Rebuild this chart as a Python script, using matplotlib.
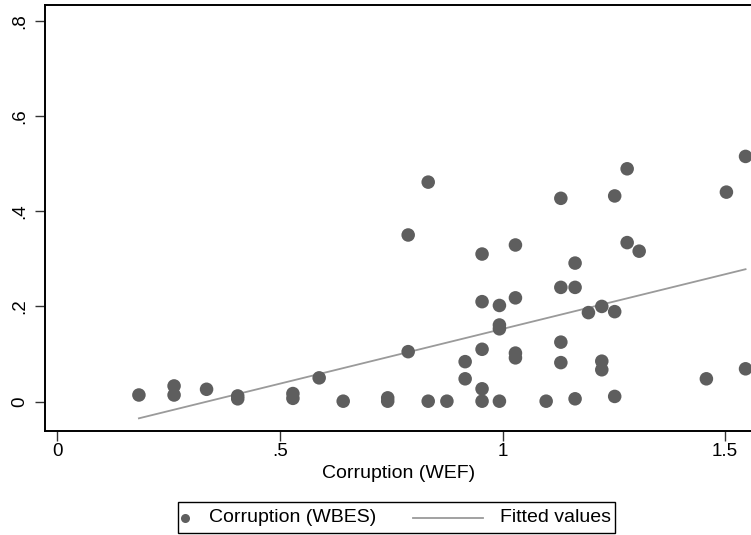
import matplotlib
matplotlib.use("Agg")
import matplotlib.pyplot as plt
from matplotlib.patches import Rectangle
from matplotlib.lines import Line2D
import numpy as np

# Data
wef = [0.183, 0.262, 0.262, 0.335, 0.405, 0.405, 0.529, 0.529, 0.588, 0.642,
       0.742, 0.742, 0.788, 0.788, 0.833, 0.833, 0.875, 0.916, 0.916,
       0.954, 0.954, 0.954, 0.954, 0.954, 0.993, 0.993, 0.993, 0.993,
       1.029, 1.029, 1.029, 1.029, 1.098, 1.131, 1.131, 1.131, 1.131,
       1.163, 1.163, 1.163, 1.193, 1.223, 1.223, 1.223, 1.252, 1.252, 1.252,
       1.280, 1.280, 1.307, 1.458, 1.503, 1.546, 1.546]
wbes = [0.014, 0.033, 0.014, 0.026, 0.012, 0.006, 0.017, 0.007, 0.050, 0.001,
        0.008, 0.001, 0.350, 0.105, 0.461, 0.001, 0.001, 0.084, 0.048,
        0.310, 0.210, 0.110, 0.027, 0.001, 0.202, 0.161, 0.153, 0.001,
        0.329, 0.218, 0.102, 0.092, 0.001, 0.427, 0.240, 0.125, 0.082,
        0.291, 0.240, 0.006, 0.187, 0.200, 0.085, 0.067, 0.432, 0.189, 0.011,
        0.489, 0.334, 0.316, 0.048, 0.440, 0.515, 0.069]
fit_intercept = -0.077
fit_slope = 0.2297

x_ticks = [0, 0.5, 1, 1.5]
x_ticklabels = ["0", ".5", "1", "1.5"]
y_ticks = [0, 0.2, 0.4, 0.6, 0.8]
y_ticklabels = ["0", ".2", ".4", ".6", ".8"]
legend_labels = ["Corruption (WBES)", "Fitted values"]

plt.rcParams['font.family'] = ['Liberation Sans', 'DejaVu Sans']

W, H = 751, 535
fig = plt.figure(figsize=(W / 100, H / 100), dpi=100)
left, right, bottom, top = 45, 752, 431, 4.5
ax = fig.add_axes([left / W, (H - bottom) / H, (right - left) / W, (bottom - top) / H])

MARK = "#5e5e5e"
LINE = "#9a9a9a"

xs = np.array(wef)
xf = np.array([xs.min(), xs.max()])
yf = fit_intercept + fit_slope * xf

ax.scatter(wef, wbes, s=95, color=MARK, edgecolors="none", zorder=3)
ax.plot(xf, yf, color=LINE, lw=1.3, zorder=2)

ax.set_xlim(-0.028, 1.5605)
ax.set_ylim(-0.0616, 0.834)
ax.set_xticks(x_ticks)
ax.set_xticklabels(x_ticklabels)
ax.set_yticks(y_ticks)
ax.set_yticklabels(y_ticklabels, rotation=90, va="center")
ax.tick_params(axis="both", direction="out", length=7, width=1, labelsize=13.5,
               color="#333333")
ax.tick_params(axis="x", pad=2)
ax.tick_params(axis="y", pad=5)
for s in ax.spines.values():
    s.set_linewidth(1.4)
    s.set_color("black")
ax.set_xlabel("Corruption (WEF)", fontsize=14, labelpad=3)

# Legend drawn in figure pixel positions (Stata-style layout)
def fx(px):
    return px / W

def fy(py):
    return 1 - py / H

fig.add_artist(Rectangle((fx(178.3), fy(533)), fx(615) - fx(178.3), fy(501.7) - fy(533),
                         transform=fig.transFigure, facecolor="white",
                         edgecolor="black", lw=1.0))
ly = 517.5
fig.add_artist(Line2D([fx(185)], [fy(ly)], marker="o", markersize=6.5, color=MARK,
                      markeredgewidth=0, linestyle="none", transform=fig.transFigure))
fig.text(fx(209), fy(ly), legend_labels[0], fontsize=14, va="center", ha="left")
fig.add_artist(Line2D([fx(413), fx(483)], [fy(ly), fy(ly)], color=LINE, lw=1.3,
                      transform=fig.transFigure))
fig.text(fx(500), fy(ly), legend_labels[1], fontsize=14, va="center", ha="left")

fig.savefig("out.png", dpi=100)
